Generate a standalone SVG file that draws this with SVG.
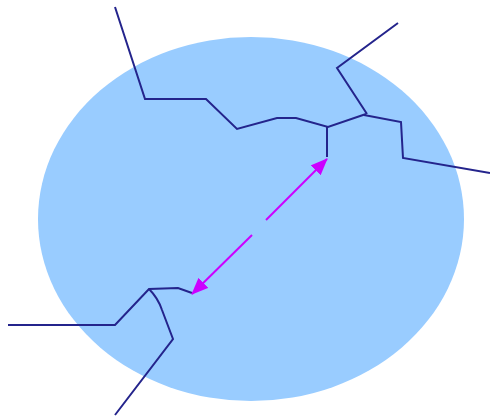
<svg xmlns="http://www.w3.org/2000/svg" width="490" height="416" viewBox="0 0 490 416">
<style>
.b{fill:none;stroke:#24248c;stroke-width:2;stroke-linejoin:miter}
.a{fill:none;stroke:#cc00ff;stroke-width:2}
</style>
<defs>
<marker id="ah" viewBox="0 0 17 14" refX="16" refY="7" markerWidth="17" markerHeight="14" markerUnits="userSpaceOnUse" orient="auto">
<path d="M0,0 L17,7 L0,14 z" fill="#cc00ff"/>
</marker>
</defs>
<g id="region"><ellipse cx="251" cy="219" rx="213" ry="182" fill="#99ccff"/></g>
<g id="connectors">
<polyline class="b" points="115,7 145,99 206,99 237,129 277,118 296,118 328,127 366,114"/>
<polyline class="b" points="327,127 327,157"/>
<polyline class="b" points="398,23 337,68 367,114"/>
<polyline class="b" points="364,115 401,122 403,158 490,173"/>
<polyline class="b" points="8,325 115,325 149,289 178,288 192,293"/>
<path class="b" d="M149,289 Q158,298 162,310 L173,339 L115,415"/>
<line class="a" x1="266" y1="220" x2="327" y2="159" marker-end="url(#ah)"/>
<line class="a" x1="252" y1="235" x2="192" y2="294" marker-end="url(#ah)"/>
</g>
</svg>
